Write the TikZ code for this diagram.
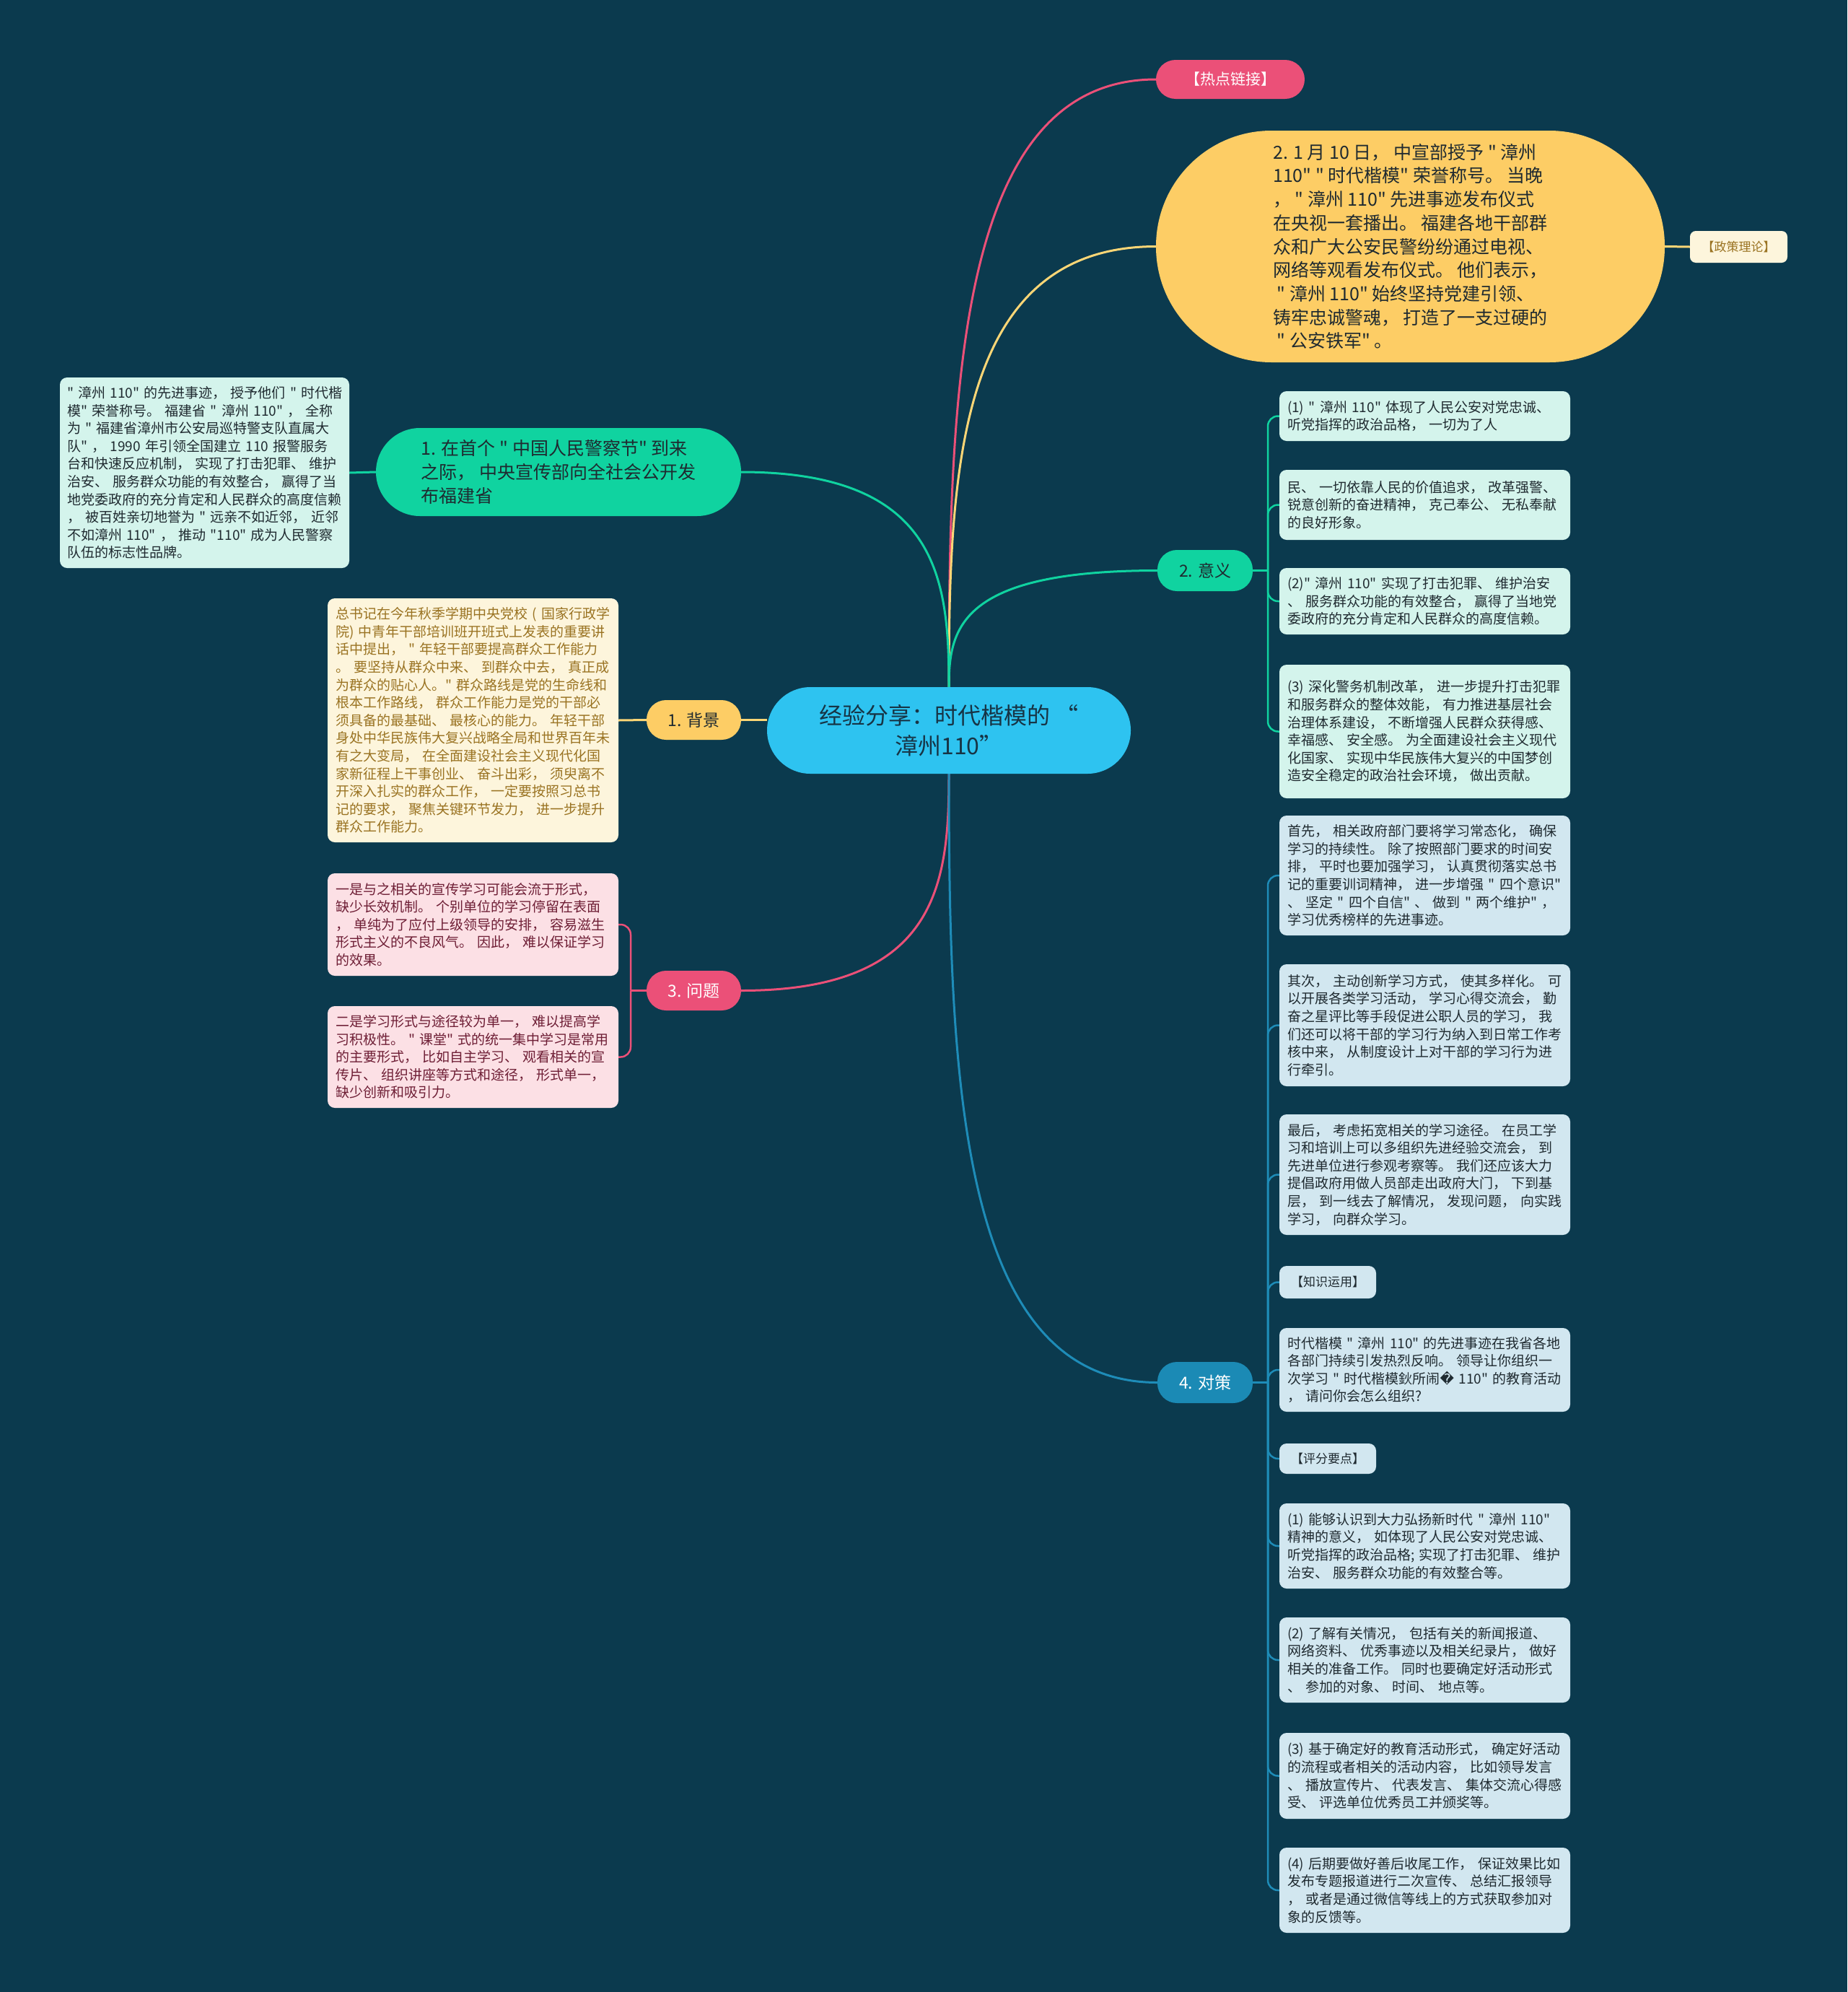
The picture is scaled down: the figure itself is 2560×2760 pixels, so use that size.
\documentclass[tikz,border=0pt]{standalone}
\usepackage{fontspec}
\setmainfont{Noto Sans CJK SC}[Ligatures=TeXOff]
\newfontfamily\dejavu{DejaVu Sans}
\definecolor{bgc}{HTML}{0B3A4E}
\definecolor{cblue}{HTML}{2EC3F0}
\definecolor{ctext}{HTML}{173445}
\definecolor{gfill}{HTML}{10D3A0}
\definecolor{yfill}{HTML}{FDCD65}
\definecolor{pfill}{HTML}{EB5078}
\definecolor{dfill}{HTML}{1B8AB5}
\definecolor{mint}{HTML}{D4F4EC}
\definecolor{cream}{HTML}{FDF5DC}
\definecolor{creamtxt}{HTML}{9A7322}
\definecolor{pinkleaf}{HTML}{FCE0E5}
\definecolor{pinktxt}{HTML}{6E1E35}
\definecolor{blueleaf}{HTML}{D2E7F0}
\definecolor{darktxt}{HTML}{1F2A30}
\definecolor{lineyel}{HTML}{FCD676}
\definecolor{lineblue}{HTML}{1E8CB8}
\definecolor{linegreen}{HTML}{10D3A0}
\definecolor{linepink}{HTML}{EB5078}
\newcommand\leaffont{\fontsize{19}{24.6}\selectfont}
\newcommand\midfont{\fontsize{25}{32.7}\selectfont}
\newcommand\labfont{\fontsize{23}{28}\selectfont}
\newcommand\tagfont{\fontsize{17}{22}\selectfont}
\pgfdeclarelayer{back}
\pgfdeclarelayer{lines}
\pgfsetlayers{back,lines,main}
\tikzset{
  box/.style={inner sep=0pt, align=left, font=\leaffont, text=darktxt},
  leaf/.style={box, text width=381, rounded corners=10, minimum width=403, minimum height=#1},
  mintleaf/.style={leaf=#1, fill=mint},
  blueleafbox/.style={leaf=#1, fill=blueleaf},
  pinkleafbox/.style={leaf=#1, fill=pinkleaf, text=pinktxt},
  creamleaf/.style={leaf=#1, fill=cream, text=creamtxt},
  lab/.style={inner sep=0pt, rounded corners=27, minimum width=132, minimum height=56, font=\labfont},
  conn/.style={line width=3pt},
  brk/.style={line width=2.5pt, rounded corners=14},
}
\begin{document}
\begin{tikzpicture}[x=1pt,y=-1pt]
\begin{pgfonlayer}{back}
\fill[bgc] (0,0) rectangle (2560,2760);
\end{pgfonlayer}
\useasboundingbox (0,0) rectangle (2560,2760);

% central
\node[inner sep=0pt, rounded corners=60, minimum width=504, minimum height=120, fill=cblue, text=ctext, align=center, font=\fontsize{32}{42}\selectfont] (c) at (1315,1012) {经验分享：时代楷模的 “\\漳州110”};

% hot link
\node[lab, fill=pfill, text=white, minimum width=206, minimum height=54, font=\fontsize{21}{26}\selectfont] (hot) at (1705,110) {【热点链接】};

% big yellow
\node[inner sep=0pt, rounded corners=160, minimum width=705, minimum height=321, fill=yfill, text=darktxt, align=left, font=\midfont] (yel) at (1954.5,341.5) {2. 1 月 10 日， 中宣部授予 " 漳州\\110" " 时代楷模" 荣誉称号。 当晚\\， " 漳州 110" 先进事迹发布仪式\\在央视一套播出。 福建各地干部群\\众和广大公安民警纷纷通过电视、\\网络等观看发布仪式。 他们表示，\\\ " 漳州 110" 始终坚持党建引领、\\铸牢忠诚警魂， 打造了一支过硬的\\\ " 公安铁军" 。};

\node[inner sep=0pt, rounded corners=8, minimum width=135, minimum height=44, fill=cream, text=creamtxt, font=\tagfont] (pol) at (2409.5,342) {【政策理论】};

% branch 1 green
\node[inner sep=0pt, rounded corners=61, minimum width=506, minimum height=122, fill=gfill, text=darktxt, align=left, font=\midfont] (g1) at (774,654) {1. 在首个 " 中国人民警察节" 到来\\之际， 中央宣传部向全社会公开发\\布福建省};

\node[mintleaf=264, minimum width=401] (lleaf) at (283.5,655) {"~漳州~110"~的先进事迹，~授予他们~"~时代楷\\模" 荣誉称号。 福建省 " 漳州 110" ， 全称\\为 " 福建省漳州市公安局巡特警支队直属大\\队" ， 1990 年引领全国建立 110 报警服务\\台和快速反应机制， 实现了打击犯罪、 维护\\治安、 服务群众功能的有效整合， 赢得了当\\地党委政府的充分肯定和人民群众的高度信赖\\， 被百姓亲切地誉为 " 远亲不如近邻， 近邻\\不如漳州 110" ， 推动 "110" 成为人民警察\\队伍的标志性品牌。};

% background
\node[lab, fill=yfill, text=darktxt, minimum width=131, minimum height=55] (bg) at (961.5,997.5) {1. 背景};
\node[creamleaf=338] (cr) at (655.5,998) {总书记在今年秋季学期中央党校 ( 国家行政学\\院) 中青年干部培训班开班式上发表的重要讲\\话中提出， " 年轻干部要提高群众工作能力\\。 要坚持从群众中来、 到群众中去， 真正成\\为群众的贴心人。" 群众路线是党的生命线和\\根本工作路线， 群众工作能力是党的干部必\\须具备的最基础、 最核心的能力。 年轻干部\\身处中华民族伟大复兴战略全局和世界百年未\\有之大变局， 在全面建设社会主义现代化国\\家新征程上干事创业、 奋斗出彩， 须臾离不\\开深入扎实的群众工作， 一定要按照习总书\\记的要求， 聚焦关键环节发力， 进一步提升\\群众工作能力。};

% problems
\node[lab, fill=pfill, text=white, minimum width=131, minimum height=55] (wt) at (961.5,1372.5) {3. 问题};
\node[pinkleafbox=142] (pk1) at (655.5,1281) {一是与之相关的宣传学习可能会流于形式，\\缺少长效机制。 个别单位的学习停留在表面\\， 单纯为了应付上级领导的安排， 容易滋生\\形式主义的不良风气。 因此， 难以保证学习\\的效果。};
\node[pinkleafbox=141] (pk2) at (655.5,1464.5) {二是学习形式与途径较为单一， 难以提高学\\习积极性。 " 课堂" 式的统一集中学习是常用\\的主要形式， 比如自主学习、 观看相关的宣\\传片、 组织讲座等方式和途径， 形式单一，\\缺少创新和吸引力。};

% meaning
\node[lab, fill=gfill, text=darktxt, minimum height=57] (yy) at (1670,790.5) {2. 意义};
\node[mintleaf=69] (yl1) at (1974.5,576.5) {(1) " 漳州 110" 体现了人民公安对党忠诚、\\听党指挥的政治品格， 一切为了人};
\node[mintleaf=97] (yl2) at (1974.5,699.5) {民、 一切依靠人民的价值追求， 改革强警、\\锐意创新的奋进精神， 克己奉公、 无私奉献\\的良好形象。};
\node[mintleaf=92] (yl3) at (1974.5,833) {(2)" 漳州 110" 实现了打击犯罪、 维护治安\\、 服务群众功能的有效整合， 赢得了当地党\\委政府的充分肯定和人民群众的高度信赖。};
\node[mintleaf=185] (yl4) at (1974.5,1013.5) {(3) 深化警务机制改革， 进一步提升打击犯罪\\和服务群众的整体效能， 有力推进基层社会\\治理体系建设， 不断增强人民群众获得感、\\幸福感、 安全感。 为全面建设社会主义现代\\化国家、 实现中华民族伟大复兴的中国梦创\\造安全稳定的政治社会环境， 做出贡献。};

% measures
\node[lab, fill=dfill, text=white, minimum height=57] (ds) at (1670,1915.5) {4. 对策};
\node[blueleafbox=166] (dl1) at (1974.5,1213) {首先， 相关政府部门要将学习常态化， 确保\\学习的持续性。 除了按照部门要求的时间安\\排， 平时也要加强学习， 认真贯彻落实总书\\记的重要训词精神， 进一步增强 " 四个意识"\\、 坚定 " 四个自信" 、 做到 " 两个维护" ，\\学习优秀榜样的先进事迹。};
\node[blueleafbox=169] (dl2) at (1974.5,1420.5) {其次， 主动创新学习方式， 使其多样化。 可\\以开展各类学习活动， 学习心得交流会， 勤\\奋之星评比等手段促进公职人员的学习， 我\\们还可以将干部的学习行为纳入到日常工作考\\核中来， 从制度设计上对干部的学习行为进\\行牵引。};
\node[blueleafbox=167] (dl3) at (1974.5,1627.5) {最后， 考虑拓宽相关的学习途径。 在员工学\\习和培训上可以多组织先进经验交流会， 到\\先进单位进行参观考察等。 我们还应该大力\\提倡政府用做人员部走出政府大门， 下到基\\层， 到一线去了解情况， 发现问题， 向实践\\学习， 向群众学习。};
\node[box, rounded corners=10, fill=blueleaf, minimum width=134, minimum height=45, font=\tagfont] (dl4) at (1840,1776.5) {【知识运用】};
\node[blueleafbox=116] (dl5) at (1974.5,1898) {时代楷模 " 漳州 110" 的先进事迹在我省各地\\各部门持续引发热烈反响。 领导让你组织一\\次学习 " 时代楷模鈥所闹{\dejavu �} 110" 的教育活动\\， 请问你会怎么组织?};
\node[box, rounded corners=10, fill=blueleaf, minimum width=134, minimum height=42, font=\tagfont] (dl6) at (1840,2021) {【评分要点】};
\node[blueleafbox=118] (dl7) at (1974.5,2142) {(1) 能够认识到大力弘扬新时代 " 漳州 110"\\精神的意义， 如体现了人民公安对党忠诚、\\听党指挥的政治品格; 实现了打击犯罪、 维护\\治安、 服务群众功能的有效整合等。};
\node[blueleafbox=118] (dl8) at (1974.5,2300) {(2) 了解有关情况， 包括有关的新闻报道、\\网络资料、 优秀事迹以及相关纪录片， 做好\\相关的准备工作。 同时也要确定好活动形式\\、 参加的对象、 时间、 地点等。};
\node[blueleafbox=119] (dl9) at (1974.5,2460.5) {(3) 基于确定好的教育活动形式， 确定好活动\\的流程或者相关的活动内容， 比如领导发言\\、 播放宣传片、 代表发言、 集体交流心得感\\受、 评选单位优秀员工并颁奖等。};
\node[blueleafbox=118] (dl10) at (1974.5,2619) {(4) 后期要做好善后收尾工作， 保证效果比如\\发布专题报道进行二次宣传、 总结汇报领导\\， 或者是通过微信等线上的方式获取参加对\\象的反馈等。};

\coordinate (yb) at (1757,790.5);
\coordinate (db) at (1757,1915.5);
\coordinate (wb) at (874,1372.5);

\begin{pgfonlayer}{lines}
\draw[conn, linepink] (c.north) .. controls (1315,531) and (1329,110) .. (hot.west);
\draw[conn, lineyel] (c.north) .. controls (1315,647) and (1329,341.5) .. (yel.west);
\draw[conn, linegreen] (c.north) .. controls (1315,803) and (1301,654) .. (g1.east);
\draw[conn, linegreen] (c.north) .. controls (1315,871) and (1329,790.5) .. (yy.west);
\draw[conn, linepink] (c.south) .. controls (1315,1222) and (1301,1372.5) .. (wt.east);
\draw[conn, lineblue] (c.south) .. controls (1315,1494) and (1329,1915.5) .. (ds.west);
\draw[conn, lineyel] (bg.east) -- (bg.east -| c.west);
\draw[conn, lineyel] (cr.east) -- (bg.west);
\draw[conn, linegreen] (lleaf.east) -- (g1.west);
\draw[conn, lineyel] (yel.east) -- (pol.west);
% brackets
\draw[brk, linegreen] (yy.east) -- (yb);
\foreach \n in {yl1,yl2,yl3,yl4} \draw[brk, linegreen] (yb) |- (\n.west);
\draw[brk, lineblue] (ds.east) -- (db);
\foreach \n in {dl1,dl2,dl3,dl4,dl5,dl6,dl7,dl8,dl9,dl10} \draw[brk, lineblue] (db) |- (\n.west);
\draw[brk, linepink] (wt.west) -- (wb);
\foreach \n in {pk1,pk2} \draw[brk, linepink] (wb) |- (\n.east);
\end{pgfonlayer}
\end{tikzpicture}
\end{document}
